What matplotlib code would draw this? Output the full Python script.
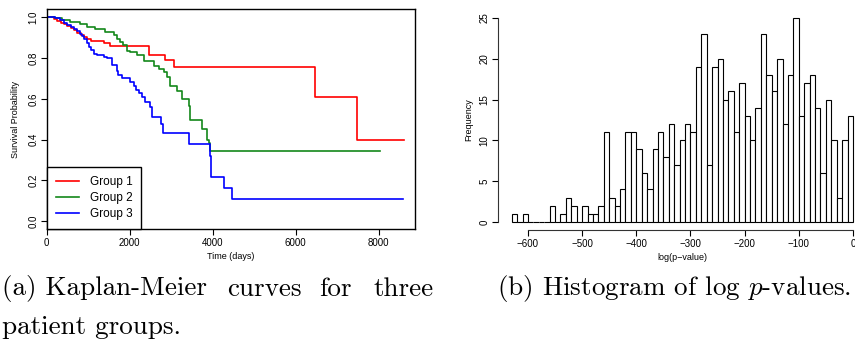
import matplotlib
matplotlib.use("Agg")
import matplotlib.pyplot as plt
import numpy as np

plt.rcParams['font.family'] = ['Liberation Sans', 'DejaVu Sans']
plt.rcParams['mathtext.fontset'] = 'cm'

# Kaplan-Meier step curves (time in days, survival probability)
red_t = [0, 180, 260, 340, 420, 500, 580, 660, 740, 820, 900, 980, 1060, 1370, 1530,
         2455, 2857, 3058, 6464, 7471, 8610]
red_s = [1.0, 0.99, 0.982, 0.974, 0.966, 0.958, 0.946, 0.936, 0.924, 0.913, 0.903, 0.893,
         0.884, 0.874, 0.858, 0.818, 0.792, 0.759, 0.607, 0.40, 0.40]

green_t = [0, 200, 360, 560, 800, 970, 1170, 1410, 1610, 1690, 1770, 1850, 1930, 2012,
           2174, 2333, 2575, 2696, 2816, 2899, 2978, 3140, 3261, 3420, 3461, 3744, 3865,
           3920, 3944, 8020]
green_s = [1.0, 0.995, 0.985, 0.977, 0.966, 0.955, 0.944, 0.93, 0.915, 0.893, 0.877, 0.864,
           0.836, 0.828, 0.815, 0.787, 0.762, 0.746, 0.73, 0.71, 0.664, 0.64, 0.599, 0.566,
           0.497, 0.45, 0.40, 0.384, 0.346, 0.346]

blue_t = [0, 200, 330, 420, 500, 580, 660, 740, 800, 860, 900, 960, 1022, 1063, 1142, 1222,
          1384, 1450, 1570, 1690, 1730, 1812, 2012, 2093, 2150, 2236, 2295, 2375, 2480,
          2536, 2754, 2802, 3420, 3944, 3961, 4266, 4469, 8575]
blue_s = [1.0, 0.995, 0.985, 0.975, 0.962, 0.955, 0.945, 0.935, 0.92, 0.907, 0.894, 0.875,
          0.857, 0.84, 0.822, 0.815, 0.806, 0.80, 0.766, 0.735, 0.715, 0.702, 0.684, 0.664,
          0.645, 0.628, 0.607, 0.586, 0.558, 0.509, 0.476, 0.431, 0.377, 0.318, 0.215,
          0.161, 0.111, 0.111]

groups = ['Group 1', 'Group 2', 'Group 3']
colors = ['red', '#13881a', 'blue']

# histogram of log p-values, bins of width 10 from -630 to 0
bin_edges = np.arange(-630, 1, 10)
counts = [1, 0, 1, 0, 0, 0, 0, 2, 0, 1, 3, 2, 0, 2, 1, 1, 2, 11, 3, 2, 4, 11, 11, 9, 6, 4,
          9, 11, 8, 12, 7, 10, 12, 11, 19, 23, 7, 19, 20, 15, 16, 11, 17, 13, 10, 14, 23, 18,
          16, 20, 12, 18, 25, 13, 17, 18, 14, 6, 15, 10, 3, 10, 13]

fig = plt.figure(figsize=(8.55, 3.41), dpi=100)

# (a) Kaplan-Meier
ax1 = fig.add_axes([0.0546, 0.3276, 0.4308, 0.6452])
for t, s, c, g in zip([red_t, green_t, blue_t], [red_s, green_s, blue_s], colors, groups):
    ax1.step(t, s, where='post', color=c, lw=1.2, label=g)
ax1.set_xlim(0, 8875)
ax1.set_ylim(-0.04, 1.04)
ax1.set_xticks([0, 2000, 4000, 6000, 8000])
ax1.set_yticks([0.0, 0.2, 0.4, 0.6, 0.8, 1.0])
ax1.set_yticklabels(['0.0', '0.2', '0.4', '0.6', '0.8', '1.0'], rotation=90, va='center')
ax1.tick_params(direction='out', length=4, width=0.8, labelsize=7, pad=2)
for sp in ax1.spines.values():
    sp.set_linewidth(1.0)
ax1.set_xlabel('Time (days)', fontsize=6.5, labelpad=3)
ax1.set_ylabel('Survival Probability', fontsize=6.5, labelpad=6)
leg = ax1.legend(loc='lower left', bbox_to_anchor=(0, 0), borderaxespad=0, fancybox=False,
                 edgecolor='black', framealpha=1, fontsize=8.5, handlelength=2.0,
                 handletextpad=0.9, labelspacing=0.35, borderpad=0.75)
leg.get_frame().set_linewidth(1.0)

# (b) histogram
ax2 = fig.add_axes([0.5825, 0.3249, 0.4311, 0.6463])
ax2.bar(bin_edges[:-1], counts, width=10, align='edge', color='white',
        edgecolor='black', linewidth=0.8)
ax2.set_xlim(-655.2, 25.2)
ax2.set_ylim(-1, 26)
ax2.spines['top'].set_visible(False)
ax2.spines['right'].set_visible(False)
ax2.spines['left'].set_bounds(0, 25)
ax2.spines['bottom'].set_bounds(-600, 0)
ax2.spines['left'].set_color('#333333')
ax2.spines['bottom'].set_color('#333333')
ax2.set_xticks([-600, -500, -400, -300, -200, -100, 0])
ax2.set_yticks([0, 5, 10, 15, 20, 25])
ax2.set_yticklabels(['0', '5', '10', '15', '20', '25'], rotation=90, va='center')
ax2.tick_params(direction='out', length=4, width=0.8, labelsize=7, pad=2)
ax2.set_xlabel('log(p\u2212value)', fontsize=6.5, labelpad=3)
ax2.set_ylabel('Frequency', fontsize=6.5, labelpad=5)

# captions
cap = dict(family='cmr10', fontsize=19.5, va='center', ha='left')
y1 = 1 - 289 / 341
fig.text(2 / 855, y1, '(a) Kaplan-Meier', **cap)
fig.text(227 / 855, y1, 'curves', **cap)
fig.text(319 / 855, y1, 'for', **cap)
fig.text(373 / 855, y1, 'three', **cap)
fig.text(2 / 855, 1 - 327 / 341, 'patient groups.', **cap)
fig.text(497 / 855, y1, '(b) Histogram of log $p$-values.', **cap)

fig.savefig('out.png', dpi=100)
